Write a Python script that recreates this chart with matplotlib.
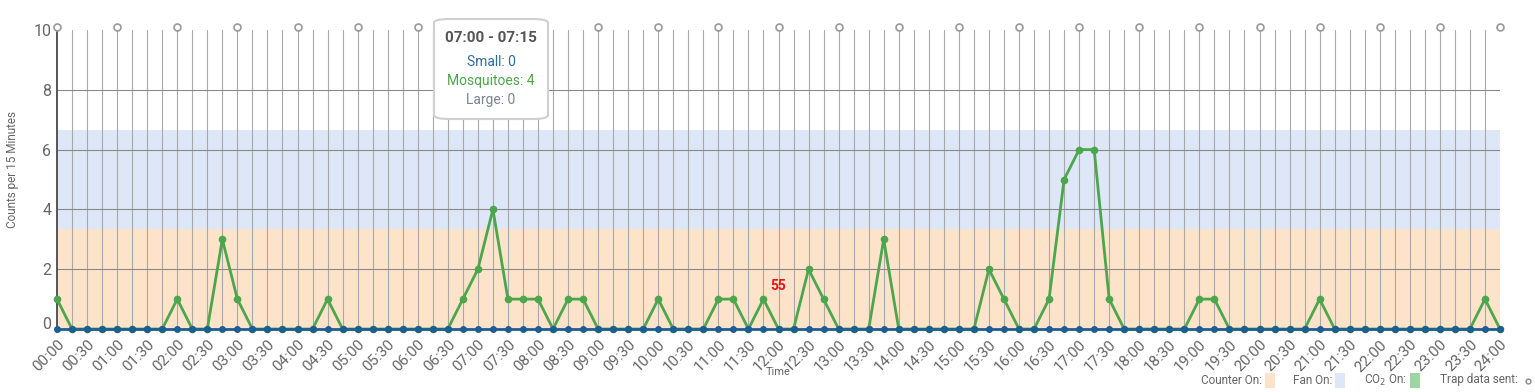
import numpy as np
import matplotlib
matplotlib.use("Agg")
import matplotlib.pyplot as plt
import matplotlib.transforms as mtransforms
from matplotlib.patches import FancyBboxPatch, Rectangle
from matplotlib.ticker import FixedLocator

plt.rcParams['font.family'] = ['Roboto', 'DejaVu Sans']

# counts per 15 minute slot, 00:00 .. 24:00 (97 points)
mosquitoes = [1, 0, 0, 0, 0, 0, 0, 0, 1, 0, 0, 3,
              1, 0, 0, 0, 0, 0, 1, 0, 0, 0, 0, 0,
              0, 0, 0, 1, 2, 4, 1, 1, 1, 0, 1, 1,
              0, 0, 0, 0, 1, 0, 0, 0, 1, 1, 0, 1,
              0, 0, 2, 1, 0, 0, 0, 3, 0, 0, 0, 0,
              0, 0, 2, 1, 0, 0, 1, 5, 6, 6, 1, 0,
              0, 0, 0, 0, 1, 1, 0, 0, 0, 0, 0, 0,
              1, 0, 0, 0, 0, 0, 0, 0, 0, 0, 0, 1,
              0]
small = [0] * 97
hours = np.arange(97) * 0.25

tick_labels = ['%02d:%02d' % (h // 60, h % 60) for h in range(0, 24 * 60 + 1, 30)]
trap_sent_hours = list(range(0, 25))

counter_band = (0, 3.33)
fan_band = (3.33, 6.67)

note_x, note_y, note_text = 12.0, 1.43, '55'

tip_title = '07:00 - 07:15'
tip_lines = [('Small: 0', '#2e6da4'), ('Mosquitoes: 4', '#4ca64c'), ('Large: 0', '#7a8590')]

c_orange = '#fde3c9'
c_blue = '#dde7f7'
c_green = '#4ca64c'
c_small = '#1d5d94'
c_text = '#666666'

W, H = 1535, 392
fig = plt.figure(figsize=(W / 100, H / 100), dpi=100)
x0, x1, ytop, ybot = 57, 1500, 30, 332
ax = fig.add_axes([x0 / W, 1 - ybot / H, (x1 - x0) / W, (ybot - ytop) / H])
ax.set_xlim(0, 24)
ax.set_ylim(-0.1, 10)

# bands
ax.axhspan(counter_band[0], counter_band[1], color=c_orange, zorder=0, lw=0)
ax.axhspan(fan_band[0], fan_band[1], color=c_blue, zorder=0, lw=0)

# grid
for xv in hours[1:-1]:
    ax.axvline(xv, color='#a8a8a8', lw=0.8, zorder=1)
for yv in [2, 4, 6, 8]:
    ax.axhline(yv, color='#8a8a8a', lw=0.8, zorder=1)

ax.plot(hours, mosquitoes, '-o', color=c_green, lw=2, ms=4.5, zorder=3, clip_on=False)
ax.plot(hours, small, '-o', color=c_small, lw=2, ms=4, zorder=4, clip_on=False)

# trap data sent markers
ax.plot(trap_sent_hours, [10.1] * len(trap_sent_hours), 'o', mfc='white', mec='#9a9a9a',
        ms=5, mew=1.2, clip_on=False, zorder=5)

ax.text(note_x, note_y, note_text, color='#e8141b', fontsize=10, fontweight='bold',
        ha='center', va='center', zorder=6)

for s in ['top', 'right', 'bottom']:
    ax.spines[s].set_visible(False)
ax.spines['left'].set_color('#555555')
ax.spines['left'].set_linewidth(1.4)

ax.yaxis.set_major_locator(FixedLocator([0, 2, 4, 6, 8, 10]))
ax.tick_params(axis='y', length=0, pad=4, labelsize=11.5, labelcolor=c_text)
# the zero label sits a little above the baseline
zl = ax.get_yticklabels()[0]
zl.set_transform(zl.get_transform() + mtransforms.ScaledTranslation(0, 6 / 100, fig.dpi_scale_trans))

ax.xaxis.set_major_locator(FixedLocator(np.arange(0, 24.01, 0.5)))
ax.set_xticklabels(tick_labels, rotation=45, ha='right', va='top', rotation_mode='anchor')
ax.tick_params(axis='x', length=0, pad=4, labelsize=11, labelcolor=c_text)

fig.text(778 / W, 1 - 372 / H, 'Time', fontsize=8, color=c_text, ha='center', va='center')
fig.text(13 / W, 1 - 170 / H, 'Counts per 15 Minutes', rotation=90, fontsize=8.5,
         color=c_text, ha='center', va='center')

# tooltip
tb = FancyBboxPatch((434 / W, 1 - 119 / H), 114 / W, 100 / H,
                    boxstyle='round,pad=0,rounding_size=0.01', transform=fig.transFigure,
                    facecolor='white', edgecolor='#d0d0d0', lw=1.5, zorder=10)
fig.add_artist(tb)
fig.text(491 / W, 1 - 38 / H, tip_title, fontsize=11, fontweight='bold', color='#555555',
         ha='center', va='center', zorder=11)
for k, (t, c) in enumerate(tip_lines):
    fig.text(491 / W, 1 - (62 + 19 * k) / H, t, fontsize=10, color=c,
             ha='center', va='center', zorder=11)

# legend
ly = 1 - 380 / H
leg = [('Counter On:', 1262, c_orange), ('Fan On:', 1332, c_blue), ('CO$_2$ On:', 1407, '#9fd4a3')]
for label, xr, col in leg:
    fig.text(xr / W, ly, label, fontsize=8.5, color=c_text, ha='right', va='center')
    fig.add_artist(Rectangle(((xr + 3) / W, ly - 8 / H), 10 / W, 15 / H,
                             transform=fig.transFigure, facecolor=col, edgecolor='none'))
fig.text(1440 / W, ly, 'Trap data sent:', fontsize=8.5, color=c_text, ha='left', va='center')
fig.add_artist(plt.Line2D([1528 / W], [ly - 1 / H], marker='o', ms=3.5, mfc='white', mec='#888888',
                          transform=fig.transFigure))

fig.savefig('out.png', dpi=100)
